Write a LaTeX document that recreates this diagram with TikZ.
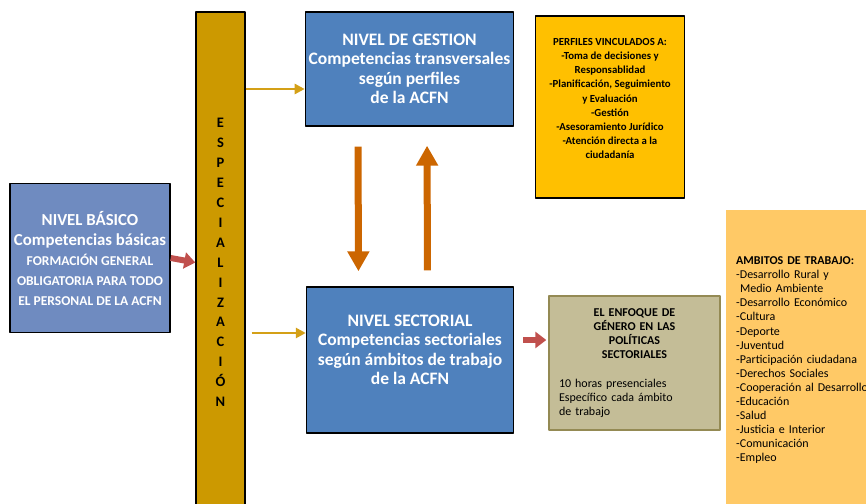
\documentclass[tikz,border=0pt]{standalone}
\usepackage{fontspec}
\setmainfont{Carlito}
\usetikzlibrary{arrows.meta}

\begin{document}
\begin{tikzpicture}[line cap=round,line join=round,x=1pt,y=-1pt,
  caja/.style={draw=black,line width=1.4pt,text=white,align=center,font=\bfseries\fontsize{17.5}{19.5}\selectfont},
  flechaoro/.style={draw=oro,line cap=butt,line width=2.8pt,-{Triangle[width=10pt,length=10pt]}},
  flecharoja/.style={draw=rojo,line cap=butt,line width=6pt,-{Triangle[width=16pt,length=11pt]}},
  flechanaranja/.style={draw=naranja,line cap=butt,line width=7pt,-{Triangle[width=21pt,length=20pt]}}]
\definecolor{azulclaro}{RGB}{111,139,192}
\definecolor{azul}{RGB}{79,129,189}
\definecolor{barraoro}{RGB}{204,153,0}
\definecolor{oro}{RGB}{212,160,23}
\definecolor{rojo}{RGB}{192,80,77}
\definecolor{naranja}{RGB}{204,102,0}
\definecolor{amarillo}{RGB}{255,192,0}
\definecolor{tostado}{RGB}{196,189,151}
\definecolor{oliva}{RGB}{148,138,84}
\definecolor{crema}{RGB}{255,201,102}

\clip (0,0) rectangle (866,503);
%\draw [help lines, step=50] (0,0) grid (866,503);

\node [caja,fill=azulclaro,minimum width=160,minimum height=149,font=\bfseries\fontsize{16.8}{20}\selectfont] (basico) at (90,258)
  {NIVEL BÁSICO\\Competencias básicas\\
   {\fontsize{13.5}{16.5}\selectfont FORMACIÓN GENERAL}\\
   {\fontsize{13.5}{16.5}\selectfont OBLIGATORIA PARA TODO}\\
   {\fontsize{13.5}{16.5}\selectfont EL PERSONAL DE LA ACFN}};
\node [draw=black,line width=1.4pt,fill=barraoro,minimum width=49,minimum height=501,align=center,
  font=\bfseries\fontsize{14.5}{19.9}\selectfont] (barra) at (220.5,262.5)
  {E\\S\\P\\E\\C\\I\\A\\L\\I\\Z\\A\\C\\I\\Ó\\N};
\node [caja,fill=azul,minimum width=207,minimum height=114] (gest) at (409.5,69)
  {NIVEL DE GESTION\\Competencias transversales\\según perfiles\\de la ACFN};
\node [caja,fill=azul,minimum width=207,minimum height=146,text depth=20pt] (sect) at (410,360)
  {NIVEL SECTORIAL\\Competencias sectoriales\\según ámbitos de trabajo\\de la ACFN};
\node [draw=black,line width=1.4pt,fill=amarillo,minimum width=149,minimum height=182,text depth=17pt,
  align=center,font=\bfseries\fontsize{10.8}{14.1}\selectfont] (perfiles) at (610,107)
  {PERFILES VINCULADOS A:\\-Toma de decisiones y\\Responsablidad\\-Planificación, Seguimiento\\
   y Evaluación\\-Gestión\\-Asesoramiento Jurídico\\-Atención directa a la\\ciudadanía};
\node [draw=oliva,line width=1.4pt,fill=tostado,minimum height=134,text width=151,inner xsep=10pt,
  align=left,font=\fontsize{12}{14.2}\selectfont] (genero) at (634.5,363)
  {{\centering\bfseries EL ENFOQUE DE\\GÉNERO EN LAS\\POLÍTICAS\\SECTORIALES\par}\vspace{14pt}
   10 horas presenciales\\Específico cada ámbito\\de trabajo};
\node [fill=crema,anchor=north west,minimum height=300,text width=160,inner xsep=10pt,
  align=left,font=\fontsize{12}{14.07}\selectfont] (ambitos) at (726,210)
  {\textbf{AMBITOS DE TRABAJO:}\\-Desarrollo Rural y\\\ Medio Ambiente\\-Desarrollo Económico\\
   -Cultura\\-Deporte\\-Juventud\\-Participación ciudadana\\-Derechos Sociales\\
   -Cooperación al Desarrollo\\-Educación\\-Salud\\-Justicia e Interior\\-Comunicación\\-Empleo};

\draw [flecharoja] (basico.east) -- (barra.west);
\draw [flechaoro] (barra.east |- 0,89) -- (gest.west |- 0,89);
\draw [flechaoro,shorten <=6pt] (barra.east |- 0,333) -- (sect.west |- 0,333);
\draw [flechanaranja,shorten <=20pt,shorten >=15pt] ([xshift=-51.5pt]gest.south) -- ([xshift=-51.5pt]sect.north);
\draw [flechanaranja,shorten <=16pt,shorten >=19pt] ([xshift=17.5pt]sect.north) -- ([xshift=17.5pt]gest.south);
\draw [flecharoja,shorten <=9pt,shorten >=2pt] (sect.east |- 0,340) -- (genero.west |- 0,340);
\end{tikzpicture}
\end{document}
